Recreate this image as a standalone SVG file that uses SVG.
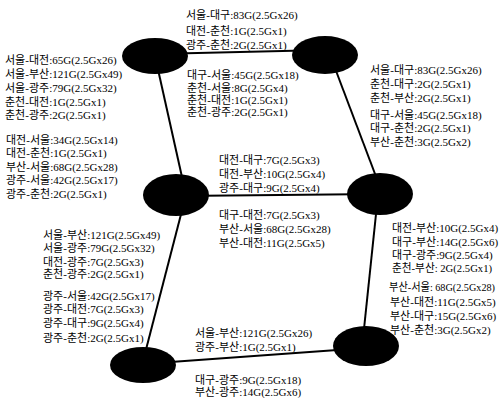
<svg xmlns="http://www.w3.org/2000/svg" width="502" height="398" viewBox="0 0 502 398">
  <style>
    .node { fill: #000; }
    .link { stroke: #000; stroke-width: 2; fill: none; }
    .lbl { font-family: "Liberation Serif", "Noto Sans CJK KR", serif; font-size: 11px; fill: #000; }
  </style>
  <rect width="502" height="398" fill="#fff"/>

  <!-- links between nodes -->
  <g id="links">
    <line class="link" x1="155" y1="54" x2="325" y2="50"/>
    <line class="link" x1="155" y1="56" x2="186" y2="195"/>
    <line class="link" x1="330" y1="55" x2="383" y2="195"/>
    <line class="link" x1="178" y1="196" x2="380" y2="194"/>
    <line class="link" x1="186" y1="195" x2="142" y2="365"/>
    <line class="link" x1="378" y1="195" x2="362" y2="348"/>
    <line class="link" x1="143" y1="364" x2="365" y2="348"/>
  </g>

  <!-- nodes -->
  <g id="node-tl"><ellipse class="node" cx="155" cy="56" rx="33" ry="18"/></g>
  <g id="node-tr"><ellipse class="node" cx="325" cy="55" rx="33" ry="19"/></g>
  <g id="node-ml"><ellipse class="node" cx="176" cy="195" rx="33" ry="21"/></g>
  <g id="node-mr"><ellipse class="node" cx="380" cy="194" rx="33" ry="21"/></g>
  <g id="node-bl"><ellipse class="node" cx="143" cy="365" rx="33" ry="18"/></g>
  <g id="node-br"><ellipse class="node" cx="366" cy="346" rx="33" ry="20"/></g>

  <!-- traffic labels -->
  <g id="labels" class="lbl">
    <text x="186" y="19">서울-대구:83G(2.5Gx26)</text>
    <text x="186" y="35">대전-춘천:1G(2.5Gx1)</text>
    <text x="186" y="49">광주-춘천:2G(2.5Gx1)</text>

    <text x="5" y="64">서울-대전:65G(2.5Gx26)</text>
    <text x="5" y="78">서울-부산:121G(2.5Gx49)</text>
    <text x="5" y="92">서울-광주:79G(2.5Gx32)</text>
    <text x="5" y="106">춘천-대전:1G(2.5Gx1)</text>
    <text x="5" y="119">춘천-광주:2G(2.5Gx1)</text>

    <text x="187" y="79">대구-서울:45G(2.5Gx18)</text>
    <text x="187" y="92">춘천-서울:8G(2.5Gx4)</text>
    <text x="187" y="104">춘천-대전:1G(2.5Gx1)</text>
    <text x="187" y="116">춘천-광주:2G(2.5Gx1)</text>

    <text x="370" y="74">서울-대구:83G(2.5Gx26)</text>
    <text x="370" y="88">춘천-대구:2G(2.5Gx1)</text>
    <text x="370" y="102">춘천-부산:2G(2.5Gx1)</text>
    <text x="370" y="119">대구-서울:45G(2.5Gx18)</text>
    <text x="370" y="132">대구-춘천:2G(2.5Gx1)</text>
    <text x="370" y="146">부산-춘천:3G(2.5Gx2)</text>

    <text x="6" y="144">대전-서울:34G(2.5Gx14)</text>
    <text x="6" y="157">대전-춘천:1G(2.5Gx1)</text>
    <text x="6" y="171">부산-서울:68G(2.5Gx28)</text>
    <text x="6" y="184">광주-서울:42G(2.5Gx17)</text>
    <text x="6" y="198">광주-춘천:2G(2.5Gx1)</text>

    <text x="219" y="164">대전-대구:7G(2.5Gx3)</text>
    <text x="219" y="178">대전-부산:10G(2.5Gx4)</text>
    <text x="219" y="192">광주-대구:9G(2.5Gx4)</text>

    <text x="219" y="219">대구-대전:7G(2.5Gx3)</text>
    <text x="219" y="233">부산-서울:68G(2.5Gx28)</text>
    <text x="219" y="247">부산-대전:11G(2.5Gx5)</text>

    <text x="43" y="239">서울-부산:121G(2.5Gx49)</text>
    <text x="43" y="252">서울-광주:79G(2.5Gx32)</text>
    <text x="43" y="266">대전-광주:7G(2.5Gx3)</text>
    <text x="43" y="278">춘천-광주:2G(2.5Gx1)</text>

    <text x="392" y="232">대전-부산:10G(2.5Gx4)</text>
    <text x="392" y="246">대구-부산:14G(2.5Gx6)</text>
    <text x="392" y="259">대구-광주:9G(2.5Gx4)</text>
    <text x="392" y="272" textLength="100" lengthAdjust="spacingAndGlyphs">춘천-부산: 2G(2.5Gx1)</text>

    <text x="389" y="291" textLength="106" lengthAdjust="spacingAndGlyphs">부산-서울: 68G(2.5Gx28)</text>
    <text x="390" y="306">부산-대전:11G(2.5Gx5)</text>
    <text x="390" y="320">부산-대구:15G(2.5Gx6)</text>
    <text x="390" y="334">부산-춘천:3G(2.5Gx2)</text>

    <text x="43" y="300">광주-서울:42G(2.5Gx17)</text>
    <text x="43" y="313">광주-대전:7G(2.5Gx3)</text>
    <text x="43" y="327">광주-대구:9G(2.5Gx4)</text>
    <text x="43" y="342">광주-춘천:2G(2.5Gx1)</text>

    <text x="195" y="337">서울-부산:121G(2.5Gx26)</text>
    <text x="195" y="351">광주-부산:1G(2.5Gx1)</text>
    <text x="195" y="384">대구-광주:9G(2.5Gx18)</text>
    <text x="195" y="396">부산-광주:14G(2.5Gx6)</text>
  </g>
</svg>
